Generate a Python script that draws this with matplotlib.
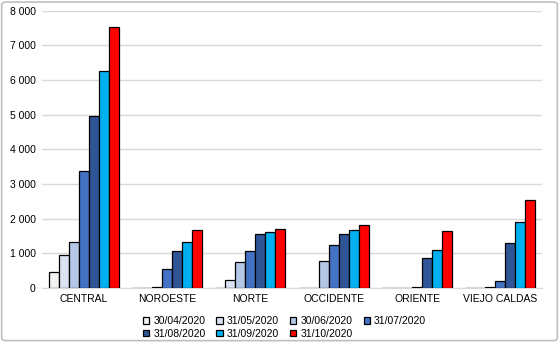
import numpy as np
import matplotlib
matplotlib.use('Agg')
import matplotlib.pyplot as plt
from matplotlib.patches import FancyBboxPatch
from matplotlib.ticker import FuncFormatter

plt.rcParams['font.family'] = ['Liberation Sans', 'DejaVu Sans']

# datos
regiones = ['CENTRAL', 'NOROESTE', 'NORTE', 'OCCIDENTE', 'ORIENTE', 'VIEJO CALDAS']
fechas = ['30/04/2020', '31/05/2020', '30/06/2020', '31/07/2020',
          '31/08/2020', '31/09/2020', '31/10/2020']
v_30_04 = [460, 0, 0, 0, 0, 10]
v_31_05 = [960, 0, 224, 0, 0, 10]
v_30_06 = [1320, 20, 750, 790, 0, 15]
v_31_07 = [3360, 555, 1052, 1247, 15, 195]
v_31_08 = [4955, 1052, 1568, 1568, 867, 1286]
v_31_09 = [6260, 1315, 1627, 1685, 1081, 1899]
v_31_10 = [7520, 1685, 1714, 1802, 1636, 2532]
series = [v_30_04, v_31_05, v_30_06, v_31_07, v_31_08, v_31_09, v_31_10]
colores = ['#f2f2f2', '#dae3f3', '#b4c7e7', '#4472c4', '#2f5597', '#00b0f0', '#ff0000']

fig = plt.figure(figsize=(5.59, 3.42), dpi=100)
ax = fig.add_axes([0.0751, 0.158, 0.8945, 0.811])

x = np.arange(len(regiones))
w = 0.12
for i, (vals, c) in enumerate(zip(series, colores)):
    ax.bar(x + (i - 3) * w, vals, w, color=c, edgecolor='black', linewidth=0.9,
           label=fechas[i], zorder=3)

ax.set_xlim(-0.5, len(regiones) - 0.5)
ax.set_ylim(0, 8000)
ax.set_yticks(range(0, 8001, 1000))
ax.yaxis.set_major_formatter(FuncFormatter(lambda v, p: f'{int(v):,}'.replace(',', ' ')))
ax.set_xticks(x)
ax.set_xticklabels(regiones)
ax.tick_params(axis='both', length=0, labelsize=7.5, colors='black')
ax.tick_params(axis='x', pad=4)
ax.tick_params(axis='y', pad=4.5)
ax.grid(axis='y', color='#d9d9d9', linewidth=1, zorder=0)
for s in ['top', 'right', 'left']:
    ax.spines[s].set_visible(False)
ax.spines['bottom'].set_color('#d9d9d9')

# leyenda por filas (matplotlib llena por columnas)
h, l = ax.get_legend_handles_labels()
orden = [0, 4, 1, 5, 2, 6, 3]
ax.legend([h[i] for i in orden], [l[i] for i in orden],
          loc='upper center', bbox_to_anchor=(0.485, -0.068), ncol=4, frameon=False,
          fontsize=7.5, handlelength=0.6, handleheight=0.6, handletextpad=0.4,
          columnspacing=1.05, labelspacing=0.25)

# marco del grafico
borde = FancyBboxPatch((0.003, 0.004), 0.994, 0.99, boxstyle='round,pad=0,rounding_size=0.008',
                       transform=fig.transFigure, fill=False, edgecolor='#bfbfbf', linewidth=1.2)
fig.patches.append(borde)

fig.savefig('out.png', dpi=100)
